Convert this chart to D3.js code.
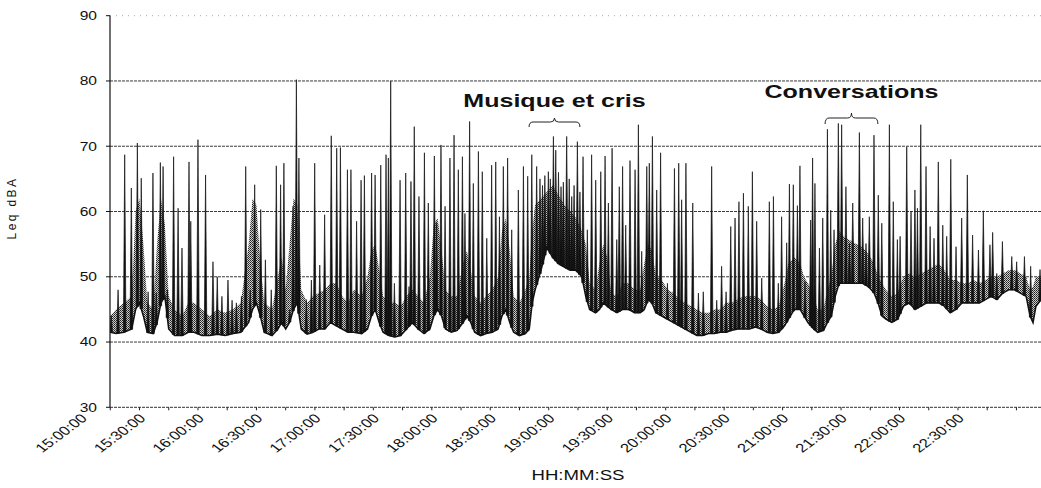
<!DOCTYPE html>
<html><head><meta charset="utf-8">
<script src="https://cdn.jsdelivr.net/npm/d3@7"></script>
<style>
html,body{margin:0;padding:0;background:#fff;}
svg{display:block;font-family:"Liberation Sans",Arial,Helvetica,sans-serif;}
</style></head><body>
<svg id="chart" width="1041" height="488"></svg>
<script>
// ---------- DATA (minutes after 15:00:00, Leq in dBA) ----------
const startClock = "15:00:00";
const axisStartMin = 14.86;   // left edge of plot
const axisEndMin = 492.6;     // right edge of plot

// lower trace (floor of the Leq record)
const floorMin = [
15,18,22,26,28,30,32,34,37,39,
41,43,45,48,52,55,58,62,66,70,
74,78,82,86,88,90,92,94,98,101,
103,105,107,109,111,113,116,119,122,125,
128,131,134,137,140,144,147,149,151,153,
155,158,161,164,167,170,173,176,179,181,
183,185,187,190,193,196,198,200,202,205,
208,211,214,216,218,220,222,225,228,230,
231.5,233,236,239,242,245,248,251,254,257,
259,261,264,266,268,270,272,275,278,281,
284,287,289,291,293,295,298,301,304,307,
310,313,316,319,322,325,328,331,334,337,
340,343,346,349,352,355,358,361,363,366,
369,371,373,376,378,381,383,385,387,389,
392,395,398,401,404,407,409,411,413,416,
419,422,425,428,431,434,437,440,443,446,
449,452,455,458,461,464,467,470,473,476,
479,482,485,487,488.5,490,492.6];
const floorLeq = [
41.5,41.3,41.5,42,45,46,44,41.5,41.3,43,
46,47,42,41,41,41.5,41.5,41,41,41.2,
41,41.3,41.5,43,45,46,44,41.5,41,42,
43,42,43,45,46,42,41.2,41.5,42,42,
43,42.5,42,41.5,41.5,41.3,42,44,45,43,
41.5,41,40.8,41,42,43,42,41.3,42,44,
45,44,42,41.5,41.8,43,44,43,41.5,41,
41.3,41.5,42,44,45,43,41.5,41,41.3,42,
46,48,51,54.5,53,52,51.5,51,51,50,
47,45,44.5,45,46,45.5,45,44.5,45,45,
44.5,44.5,45,46.5,46,44.5,44,43.5,43,42.5,
42,41.5,41,41,41.3,41.3,41.5,41.5,41.8,42,
42,42,42.3,42,41.5,41.3,41.5,42.5,43.5,45,
45,44,43,42,41.5,41.8,43,44,47,49,
49,49,49,49,48.5,47.5,46,44,43.5,43,
43.5,45.5,46,45,45.5,46,46,46,45.5,44.5,
45,46,46,46,46,46.5,47,46.5,47.5,48,
48,47.5,47,44,43,45.5,46.5];
// upper edge of the dense (grey) fluctuation band
const fuzzTop = [
44,45,46,47,60,62,55,46,45,55,
62,58,47,45,44,46,46,45,44,45,
44.5,45,46,55,62,61,52,46,45,50,
53,48,55,62,61,48,46,47,47.5,48,
49,49,47,46,48,47,50,54,55,51,
47,46,46,45.5,47,48,47,46,50,58,
59,54,48,47,47,52,54,51,47,46,
47,48,50,57,59,54,47,46,48,50,
57,61,62,63,64,62.5,61,60,59,57,
55,49,48,52,55,53,47.5,47,49,49,
48,48,52,55,54,50,49.5,48,47.5,46.5,
46,45.5,45,44.5,44.5,45,45,46,46,46.5,
47,47,47,46.5,45.5,45,45.5,49,52,53,
52,50,49,47,45,45,48,50,55,57,
56,55.5,55,54.5,53.5,52,50,49,48,47,
47.5,50,50.5,50,50.5,51,51.5,52,51,49.5,
49.5,49,49,49.5,49,49.5,50,50,50.5,51,
51,50.5,50,48,48.5,50,50];

// short noise events (peaks)
const spikeMin = [
15.5,19,22.4,25.8,28.9,30.9,34.4,36.9,38.6,40.7,
42.1,44.3,47.5,49.8,51.8,55.4,56.3,60,63.9,67.7,
69.9,72.3,75.4,77.5,79.7,82.3,84.5,86.8,89.1,92.2,
94.6,97.6,100.2,102.4,104.1,107.1,108.8,110.5,111.8,115.6,
118.2,119.9,122.5,125,128.4,131.2,133.1,136.7,
138.5,141.4,143.7,145.4,149.1,150.9,153.8,156.5,157.7,158.9,
160.8,163.7,166.6,168.3,169.3,171,173.4,176.2,178.2,181.3,
182.5,184.7,186.8,189.3,191.4,193.6,195.7,197,199.4,201.3,
203.9,205.9,208.2,210.7,212.8,214.7,216.7,218.9,221,224.4,
227,229.2,231.3,233.8,235.5,236.8,238,239.8,240.8,242.4,
243.6,245,246.3,247.5,249.2,250.5,251.8,253,254.7,256,
257.6,
259.8,262,264.1,266.7,268.9,270.6,272.5,274.9,276.2,277.9,
279.5,281.7,284.3,286,287.7,290.3,291.6,293.2,295.4,297.4,
300.9,304.5,306.7,308.2,310.4,313.9,316.8,319.3,323.6,326.2,
328.7,331,333.4,335.6,337.6,339.9,342.4,344.5,346.7,349.3,
353.2,355.3,357.8,359.5,362.1,363.5,365.5,367.6,368.9,371.5,
374.4,375.4,
376.6,378.9,380.6,383,384.7,386.4,388.6,390.3,392.5,394.3,
396,399.4,401.1,402.8,404.5,406.9,409.1,410.9,414.8,416.8,
418.9,420.3,423.7,425.9,427.9,429.2,430.9,433.6,435.7,437.7,
439.9,442.2,444.2,446.3,449,451.9,454.8,457.5,460.5,463,
466.4,467.8,469.9,472.8,477.6,480.1,484.1,487.3,492.1];
const spikeLeq = [
44,48,68.7,63.6,70.5,65.1,47.7,65.9,47.5,67.5,
66.9,48,68.4,60.5,54.4,67.6,58.5,71,65.6,52.3,
50,47,49.5,46.4,46,47,66.9,48,64.1,60.3,
52.6,48,67,64.1,67.4,45,60.8,80.2,68.2,46.5,
49.5,67.4,51.8,59.5,71.6,69.7,69.8,66.4,
66.4,58.5,64.8,65.5,65.9,65.6,67.1,68.7,68.2,80,
49,64.8,65.9,48.5,64.6,73,62.3,69,61.3,68.5,
58.2,70.2,60.8,68.2,71.7,66.4,68.4,59.7,73.8,64.3,
69.2,66.1,55.9,67.1,67.6,59.2,66.9,68.2,57.2,63.3,
66.9,65.4,68.7,66.9,65,64,65.5,66.1,65,71.5,
69.4,66,63.8,64.5,71.5,65,62.3,64,70.7,63,
68.4,
57.2,68.7,64.8,66.1,68.5,61.3,69.7,55.7,63.8,66.9,
57.9,67.8,66.4,73.3,53.9,66.9,67.4,71.5,63.3,69,
49,66.6,67.4,61.8,67.4,61.3,47.5,47.7,66.9,46.4,
51.6,47.7,57.7,59,61.5,62.8,60.8,66.1,58.5,49.8,
61.5,62.3,49,59.2,55.2,64.2,64.1,60.9,67,49.3,
58.7,68.2,
64.3,54.4,59,72.6,60.2,57.2,73.5,73.3,63.8,55.1,
61.3,72.1,59,55.1,59.2,71.7,62.5,58.2,73.3,61.5,
55.7,56.2,69.9,60,63.3,60.5,73.3,66.9,57.7,55.9,
67.6,57.9,56.2,68,54.6,59,65.6,56.4,54.1,60.1,
54.9,56.8,50.5,55.4,53.1,52.3,53.1,51.6,51.1];

const yTicks = [30,40,50,60,70,80,90];
const xTickLabels = ["15:00:00","15:30:00","16:00:00","16:30:00","17:00:00","17:30:00","18:00:00","18:30:00",
  "19:00:00","19:30:00","20:00:00","20:30:00","21:00:00","21:30:00","22:00:00","22:30:00"];
const xTitle = "HH:MM:SS";
const yTitle = "Leq dBA";
const annotationLabels = ["Musique et cris","Conversations"];
const annotationStart = ["18:49:54","21:21:48"];
const annotationEnd   = ["19:16:00","21:48:54"];

// ---------- CHART ----------
const svg = d3.select("#chart");
const base = new Date(2000,0,1,15,0,0);
const toDate = m => new Date(base.getTime() + m*60000);
const clock = s => { const p = s.split(":").map(Number); return new Date(2000,0,1,p[0],p[1],p[2]); };

const x = d3.scaleTime().domain([toDate(axisStartMin), toDate(axisEndMin)]).range([110,1041]);
const y = d3.scaleLinear().domain([30,90]).range([407.3,15.7]);
const L = 110, R = 1041;

// pattern for dense fluctuation
const defs = svg.append("defs");
const pat = defs.append("pattern").attr("id","dith").attr("patternUnits","userSpaceOnUse")
  .attr("width",2).attr("height",2);
pat.append("rect").attr("width",2).attr("height",2).attr("fill","#cfcfcf");
pat.append("rect").attr("width",1).attr("height",1).attr("fill","#1e1e1e");
pat.append("rect").attr("x",1).attr("y",1).attr("width",1).attr("height",1).attr("fill","#444");
defs.append("clipPath").attr("id","plotclip").append("rect")
  .attr("x",L).attr("y",10).attr("width",R-L).attr("height",400);

// gridlines
svg.append("g").selectAll("line").data(yTicks.filter(v => v > 30 && v < 90)).join("line")
  .attr("x1",L).attr("x2",R).attr("y1",d=>y(d)).attr("y2",d=>y(d))
  .attr("stroke","#3a3a3a").attr("stroke-width",1).attr("stroke-dasharray","3,1");
svg.append("line").attr("x1",L).attr("x2",R).attr("y1",y(90)).attr("y2",y(90))
  .attr("stroke","#aaa").attr("stroke-width",1).attr("stroke-dasharray","1,5");

// data
const floorData = floorMin.map((m,i)=>({t:toDate(m), lo:floorLeq[i], hi:fuzzTop[i]}));
const plot = svg.append("g").attr("clip-path","url(#plotclip)");

plot.append("path").datum(floorData)
  .attr("d", d3.area().x(d=>x(d.t)).y0(d=>y(d.lo)).y1(d=>y(d.hi)))
  .attr("fill","url(#dith)");

const floorAt = m => {
  const i = d3.bisectRight(floorMin, m);
  if (i <= 0) return floorLeq[0];
  if (i >= floorMin.length) return floorLeq[floorLeq.length-1];
  const f = (m - floorMin[i-1])/(floorMin[i]-floorMin[i-1]);
  return floorLeq[i-1] + f*(floorLeq[i]-floorLeq[i-1]);
};
const spikes = spikeMin.map((m,i)=>({m, t:toDate(m), v:spikeLeq[i], b:floorAt(m)}));
plot.append("g").selectAll("path").data(spikes).join("path")
  .attr("d", d => {
    const cx = x(d.t), yb = y(d.b), yt = y(d.v);
    return `M${cx-1.3},${yb}L${cx},${yt}L${cx+1.3},${yb}Z`;
  })
  .attr("fill","#111").attr("stroke","#111").attr("stroke-width",0.7).attr("stroke-linejoin","miter");

plot.append("path").datum(floorData)
  .attr("d", d3.line().x(d=>x(d.t)).y(d=>y(d.lo)))
  .attr("fill","none").attr("stroke","#111").attr("stroke-width",1.6);

// x axis (bottom) line
svg.append("line").attr("x1",L).attr("x2",R).attr("y1",y(30)).attr("y2",y(30))
  .attr("stroke","#333").attr("stroke-width",1).attr("stroke-dasharray","3,1");
// x minor ticks every 15 min
const xt = d3.timeMinute.every(15).range(toDate(axisStartMin), toDate(axisEndMin));
svg.append("g").selectAll("line").data(xt).join("line")
  .attr("x1",d=>x(d)).attr("x2",d=>x(d)).attr("y1",y(30)).attr("y2",y(30)+3)
  .attr("stroke","#222").attr("stroke-width",1);
// x tick labels
svg.append("g").selectAll("text").data(xTickLabels).join("text")
  .attr("transform", d => `translate(${x(clock(d))+7},419) scale(1.33,1) rotate(-45)`)
  .attr("text-anchor","end").attr("font-size",12.5).attr("fill","#111").text(d=>d);

// y axis
svg.append("line").attr("x1",L).attr("x2",L).attr("y1",y(90)).attr("y2",y(30))
  .attr("stroke","#111").attr("stroke-width",1.2);
svg.append("g").selectAll("line").data(yTicks).join("line")
  .attr("x1",L-4).attr("x2",L).attr("y1",d=>y(d)).attr("y2",d=>y(d))
  .attr("stroke","#111").attr("stroke-width",1);
svg.append("g").selectAll("text").data(yTicks).join("text")
  .attr("transform", d => `translate(97,${y(d)+4.3}) scale(1.3,1)`)
  .attr("text-anchor","end").attr("font-size",12).attr("fill","#111").text(d=>d);

// titles
svg.append("text").attr("transform","translate(578,480) scale(1.33,1)")
  .attr("text-anchor","middle").attr("font-size",14).attr("fill","#111").text(xTitle);
svg.append("text").attr("transform","translate(16,208) rotate(-90)")
  .attr("text-anchor","middle").attr("font-size",12).attr("letter-spacing",2.4).attr("fill","#111").text(yTitle);

// annotations
const annY = [{text:107, arm:122, peak:118, end:127},{text:98, arm:118, peak:113, end:124}];
annotationLabels.forEach((lab,i) => {
  const x0 = x(clock(annotationStart[i])), x1 = x(clock(annotationEnd[i]));
  const xm = (x0+x1)/2, a = annY[i];
  svg.append("text").attr("transform",`translate(${xm},${a.text}) scale(1.32,1)`)
    .attr("text-anchor","middle").attr("font-size",19).attr("font-weight","bold")
    .attr("fill","#111").text(lab);
  svg.append("path")
    .attr("d",`M${x0},${a.end}Q${x0},${a.arm} ${x0+4},${a.arm}L${xm-4},${a.arm}Q${xm},${a.arm} ${xm},${a.peak}Q${xm},${a.arm} ${xm+4},${a.arm}L${x1-4},${a.arm}Q${x1},${a.arm} ${x1},${a.end}`)
    .attr("fill","none").attr("stroke","#222").attr("stroke-width",1);
});
</script>
</body></html>
